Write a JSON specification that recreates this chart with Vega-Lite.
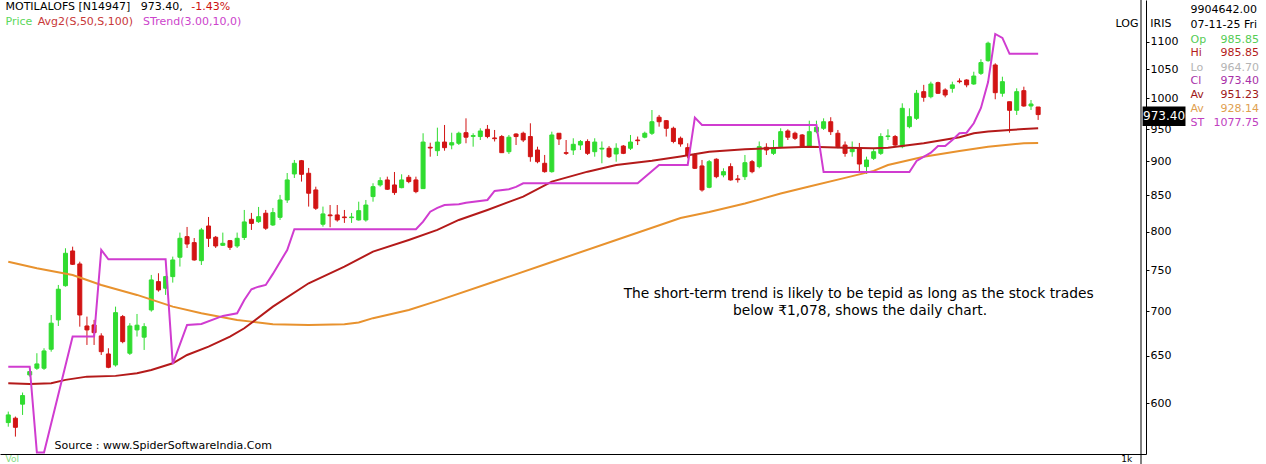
{
"$schema":"https://vega.github.io/schema/vega-lite/v6.json",
"width":1146,"height":454,"autosize":"none",
"padding":{"left":0,"top":0,"right":120,"bottom":10},
"background":"#ffffff",
"config":{"view":{"stroke":null},"text":{"font":"DejaVu Sans"}},
"datasets":{
"candles":[
{"n":0,"o":580.9,"h":591.7,"l":576.9,"c":588.4},
{"n":1,"o":585.2,"h":586.8,"l":567.4,"c":576.3},
{"n":2,"o":599.1,"h":610.9,"l":588.4,"c":607.8},
{"n":3,"o":629.2,"h":634.5,"l":627.4,"c":632.7},
{"n":4,"o":636.3,"h":652.5,"l":634.5,"c":640.9},
{"n":5,"o":636.3,"h":658.0,"l":634.5,"c":655.0},
{"n":6,"o":656.9,"h":695.7,"l":654.2,"c":686.2},
{"n":7,"o":690.0,"h":731.6,"l":683.0,"c":726.4},
{"n":8,"o":730.7,"h":778.0,"l":729.5,"c":771.5},
{"n":9,"o":774.5,"h":780.1,"l":756.5,"c":757.4},
{"n":10,"o":757.8,"h":760.7,"l":682.2,"c":695.7},
{"n":11,"o":683.0,"h":693.8,"l":661.6,"c":678.5},
{"n":12,"o":684.2,"h":690.0,"l":661.6,"c":675.4},
{"n":13,"o":671.7,"h":674.7,"l":650.6,"c":654.2},
{"n":14,"o":651.7,"h":658.0,"l":636.3,"c":637.3},
{"n":15,"o":639.8,"h":705.5,"l":638.0,"c":698.4},
{"n":16,"o":693.8,"h":695.7,"l":663.5,"c":665.3},
{"n":17,"o":652.5,"h":686.2,"l":650.6,"c":683.0},
{"n":18,"o":678.5,"h":696.9,"l":671.0,"c":683.9},
{"n":19,"o":670.3,"h":686.2,"l":656.1,"c":682.2},
{"n":20,"o":701.6,"h":744.0,"l":699.6,"c":737.8},
{"n":21,"o":735.7,"h":746.1,"l":723.4,"c":725.5},
{"n":22,"o":727.6,"h":742.8,"l":719.5,"c":741.9},
{"n":23,"o":741.9,"h":767.2,"l":734.5,"c":762.9},
{"n":24,"o":766.4,"h":798.7,"l":754.5,"c":791.1},
{"n":25,"o":793.3,"h":806.3,"l":778.4,"c":783.6},
{"n":26,"o":785.4,"h":791.5,"l":762.0,"c":762.9},
{"n":27,"o":762.0,"h":805.0,"l":756.5,"c":802.3},
{"n":28,"o":807.6,"h":819.9,"l":779.7,"c":791.1},
{"n":29,"o":792.5,"h":794.2,"l":778.4,"c":781.0},
{"n":30,"o":781.9,"h":798.7,"l":781.0,"c":784.5},
{"n":31,"o":788.0,"h":788.9,"l":775.8,"c":779.3},
{"n":32,"o":781.0,"h":798.7,"l":778.4,"c":791.1},
{"n":33,"o":792.2,"h":829.6,"l":788.9,"c":813.1},
{"n":34,"o":816.7,"h":825.5,"l":802.3,"c":811.1},
{"n":35,"o":813.5,"h":833.8,"l":811.8,"c":820.3},
{"n":36,"o":825.1,"h":829.6,"l":802.3,"c":804.6},
{"n":37,"o":809.0,"h":832.4,"l":807.6,"c":825.9},
{"n":38,"o":819.4,"h":850.8,"l":815.8,"c":843.6},
{"n":39,"o":843.6,"h":882.6,"l":839.4,"c":872.4},
{"n":40,"o":881.2,"h":902.1,"l":875.3,"c":897.1},
{"n":41,"o":901.0,"h":902.1,"l":870.0,"c":880.7},
{"n":42,"o":882.2,"h":890.1,"l":834.3,"c":853.2},
{"n":43,"o":857.9,"h":862.6,"l":829.6,"c":832.0},
{"n":44,"o":810.0,"h":834.3,"l":806.7,"c":824.1},
{"n":45,"o":822.7,"h":836.5,"l":805.9,"c":821.6},
{"n":46,"o":822.7,"h":836.5,"l":813.5,"c":815.8},
{"n":47,"o":819.9,"h":829.6,"l":811.8,"c":819.0},
{"n":48,"o":819.0,"h":825.5,"l":811.8,"c":819.9},
{"n":49,"o":815.8,"h":841.2,"l":815.0,"c":828.6},
{"n":50,"o":815.8,"h":843.6,"l":813.5,"c":836.5},
{"n":51,"o":848.4,"h":867.6,"l":841.2,"c":862.6},
{"n":52,"o":865.1,"h":876.3,"l":862.6,"c":871.4},
{"n":53,"o":872.4,"h":877.2,"l":857.9,"c":858.9},
{"n":54,"o":865.1,"h":884.1,"l":850.8,"c":854.1},
{"n":55,"o":861.2,"h":880.7,"l":860.3,"c":872.4},
{"n":56,"o":876.3,"h":879.7,"l":867.6,"c":870.0},
{"n":57,"o":872.4,"h":877.2,"l":853.2,"c":855.5},
{"n":58,"o":859.8,"h":943.4,"l":859.3,"c":929.6},
{"n":59,"o":921.5,"h":928.6,"l":907.1,"c":920.4},
{"n":60,"o":916.2,"h":952.3,"l":908.1,"c":929.6},
{"n":61,"o":929.6,"h":956.6,"l":916.2,"c":920.9},
{"n":62,"o":925.0,"h":944.3,"l":918.4,"c":928.6},
{"n":63,"o":927.7,"h":945.9,"l":925.0,"c":943.4},
{"n":64,"o":944.3,"h":967.3,"l":927.7,"c":937.2},
{"n":65,"o":938.5,"h":943.4,"l":922.4,"c":939.7},
{"n":66,"o":938.2,"h":951.3,"l":932.8,"c":947.0},
{"n":67,"o":949.7,"h":956.6,"l":935.5,"c":938.2},
{"n":68,"o":936.0,"h":948.6,"l":930.5,"c":934.9},
{"n":69,"o":938.2,"h":940.7,"l":912.7,"c":913.2},
{"n":70,"o":914.7,"h":940.7,"l":911.2,"c":937.2},
{"n":71,"o":942.2,"h":943.4,"l":925.0,"c":938.2},
{"n":72,"o":943.4,"h":945.9,"l":929.6,"c":932.8},
{"n":73,"o":938.2,"h":959.3,"l":899.5,"c":907.1},
{"n":74,"o":917.3,"h":922.4,"l":897.1,"c":899.5},
{"n":75,"o":897.1,"h":909.7,"l":883.1,"c":884.6},
{"n":76,"o":884.6,"h":945.9,"l":883.1,"c":940.7},
{"n":77,"o":943.4,"h":943.4,"l":925.0,"c":934.4},
{"n":78,"o":913.2,"h":932.8,"l":909.7,"c":912.2},
{"n":79,"o":917.3,"h":935.5,"l":909.7,"c":926.1},
{"n":80,"o":925.0,"h":932.8,"l":917.3,"c":930.5},
{"n":81,"o":930.5,"h":933.9,"l":909.7,"c":912.2},
{"n":82,"o":914.7,"h":935.5,"l":907.1,"c":929.6},
{"n":83,"o":918.8,"h":930.5,"l":897.1,"c":920.0},
{"n":84,"o":920.0,"h":923.4,"l":905.1,"c":907.1},
{"n":85,"o":911.2,"h":927.7,"l":899.5,"c":920.0},
{"n":86,"o":923.4,"h":925.0,"l":911.0,"c":912.2},
{"n":87,"o":920.0,"h":940.7,"l":917.3,"c":929.6},
{"n":88,"o":932.8,"h":938.2,"l":925.0,"c":931.7},
{"n":89,"o":937.2,"h":945.9,"l":935.5,"c":943.4},
{"n":90,"o":943.4,"h":980.9,"l":940.7,"c":961.8},
{"n":91,"o":969.1,"h":972.8,"l":953.9,"c":961.8},
{"n":92,"o":963.5,"h":964.6,"l":938.2,"c":951.3},
{"n":93,"o":951.3,"h":953.9,"l":927.7,"c":930.5},
{"n":94,"o":935.5,"h":938.2,"l":922.4,"c":926.6},
{"n":95,"o":920.9,"h":927.7,"l":904.6,"c":908.9},
{"n":96,"o":909.7,"h":912.2,"l":888.5,"c":889.6},
{"n":97,"o":893.1,"h":902.1,"l":855.5,"c":857.9},
{"n":98,"o":861.7,"h":902.1,"l":860.3,"c":899.5},
{"n":99,"o":903.2,"h":904.6,"l":874.9,"c":877.2},
{"n":100,"o":879.7,"h":889.6,"l":876.3,"c":884.6},
{"n":101,"o":892.1,"h":897.1,"l":871.4,"c":872.4},
{"n":102,"o":873.9,"h":879.7,"l":868.5,"c":872.8},
{"n":103,"o":877.2,"h":909.7,"l":872.4,"c":898.0},
{"n":104,"o":899.5,"h":902.1,"l":882.2,"c":884.6},
{"n":105,"o":892.1,"h":930.5,"l":889.6,"c":922.4},
{"n":106,"o":921.5,"h":927.7,"l":909.7,"c":917.3},
{"n":107,"o":912.2,"h":932.8,"l":909.7,"c":920.0},
{"n":108,"o":922.4,"h":951.3,"l":920.0,"c":945.9},
{"n":109,"o":947.0,"h":949.7,"l":932.8,"c":937.2},
{"n":110,"o":943.4,"h":945.9,"l":932.8,"c":935.5},
{"n":111,"o":940.7,"h":942.2,"l":921.5,"c":923.4},
{"n":112,"o":923.4,"h":963.5,"l":922.4,"c":945.9},
{"n":113,"o":945.9,"h":963.5,"l":943.4,"c":952.9},
{"n":114,"o":951.3,"h":967.3,"l":948.6,"c":961.8},
{"n":115,"o":961.8,"h":969.1,"l":940.7,"c":945.9},
{"n":116,"o":943.4,"h":948.6,"l":920.0,"c":922.4},
{"n":117,"o":925.0,"h":930.5,"l":907.1,"c":912.2},
{"n":118,"o":914.7,"h":930.5,"l":907.1,"c":918.4},
{"n":119,"o":920.9,"h":928.2,"l":884.6,"c":896.0},
{"n":120,"o":892.1,"h":907.1,"l":881.2,"c":902.1},
{"n":121,"o":904.6,"h":920.0,"l":902.1,"c":914.7},
{"n":122,"o":912.2,"h":943.4,"l":909.7,"c":938.2},
{"n":123,"o":938.2,"h":949.7,"l":932.8,"c":939.2},
{"n":124,"o":938.2,"h":940.7,"l":922.4,"c":925.0},
{"n":125,"o":922.4,"h":992.0,"l":920.0,"c":983.7},
{"n":126,"o":953.9,"h":983.7,"l":951.3,"c":970.0},
{"n":127,"o":967.3,"h":1014.4,"l":964.6,"c":1008.8},
{"n":128,"o":1011.5,"h":1023.1,"l":994.6,"c":1002.0},
{"n":129,"o":1003.0,"h":1028.6,"l":1000.3,"c":1024.6},
{"n":130,"o":1026.9,"h":1028.6,"l":1007.6,"c":1008.8},
{"n":131,"o":1014.4,"h":1017.2,"l":1002.0,"c":1005.9},
{"n":132,"o":1017.2,"h":1028.6,"l":1009.8,"c":1023.1},
{"n":133,"o":1029.8,"h":1034.4,"l":1025.8,"c":1028.6},
{"n":134,"o":1031.5,"h":1032.7,"l":1019.0,"c":1023.1},
{"n":135,"o":1024.6,"h":1045.9,"l":1023.1,"c":1038.4},
{"n":136,"o":1043.1,"h":1068.0,"l":1040.2,"c":1062.0},
{"n":137,"o":1065.4,"h":1100.0,"l":1063.6,"c":1097.1},
{"n":138,"o":1057.8,"h":1060.8,"l":998.7,"c":1009.8},
{"n":139,"o":1008.8,"h":1037.2,"l":1003.0,"c":1028.6},
{"n":140,"o":994.6,"h":994.6,"l":944.3,"c":980.4},
{"n":141,"o":980.4,"h":1017.2,"l":972.8,"c":1011.5},
{"n":142,"o":1013.2,"h":1020.0,"l":986.3,"c":987.5},
{"n":143,"o":987.5,"h":997.5,"l":980.9,"c":990.8},
{"n":144,"o":985.85,"h":985.85,"l":964.7,"c":973.4}
],
"avg50":[
{"n":0,"v":620.5},{"n":3,"v":619.8},{"n":6,"v":620.5},{"n":8,"v":624.0},{"n":11,"v":627.4},{"n":15,"v":628.2},{"n":18,"v":631.0},{"n":20,"v":634.5},{"n":23,"v":641.6},{"n":25,"v":650.6},{"n":28,"v":659.8},{"n":31,"v":671.0},{"n":33,"v":680.4},{"n":37,"v":705.5},{"n":42,"v":733.7},{"n":47,"v":754.5},{"n":51,"v":773.6},{"n":56,"v":788.9},{"n":60,"v":802.3},{"n":63,"v":815.8},{"n":67,"v":829.6},{"n":72,"v":848.4},{"n":76,"v":870.0},{"n":81,"v":884.6},{"n":85,"v":894.6},{"n":90,"v":901.0},{"n":94,"v":907.4},{"n":98,"v":914.7},{"n":103,"v":918.4},{"n":108,"v":920.9},{"n":112,"v":922.4},{"n":117,"v":920.9},{"n":121,"v":920.0},{"n":123,"v":920.9},{"n":128,"v":927.7},{"n":133,"v":937.2},{"n":135,"v":943.4},{"n":137,"v":946.0},{"n":140,"v":948.5},{"n":142,"v":950.0},{"n":144,"v":951.23}
],
"avg100":[
{"n":0,"v":760.7},{"n":4,"v":752.4},{"n":9,"v":744.0},{"n":13,"v":731.6},{"n":18,"v":719.5},{"n":23,"v":705.5},{"n":27,"v":697.7},{"n":32,"v":690.0},{"n":34,"v":688.0},{"n":37,"v":685.1},{"n":42,"v":684.2},{"n":47,"v":685.1},{"n":49,"v":686.9},{"n":51,"v":692.0},{"n":56,"v":701.6},{"n":60,"v":712.3},{"n":68,"v":735.8},{"n":76,"v":760.3},{"n":85,"v":788.9},{"n":94,"v":818.5},{"n":98,"v":826.8},{"n":103,"v":838.7},{"n":108,"v":852.7},{"n":112,"v":862.9},{"n":117,"v":875.4},{"n":121,"v":885.8},{"n":123,"v":894.6},{"n":128,"v":907.1},{"n":133,"v":915.8},{"n":137,"v":922.4},{"n":142,"v":927.7},{"n":144,"v":928.14}
],
"strend":[
{"n":0,"v":638.0},{"n":3,"v":638.0},{"n":4,"v":552.4},{"n":5,"v":552.4},{"n":9,"v":671.0},{"n":12,"v":671.0},{"n":13,"v":775.8},{"n":14,"v":763.8},{"n":22,"v":763.8},{"n":23,"v":640.9},{"n":25,"v":684.2},{"n":27,"v":685.3},{"n":30,"v":694.6},{"n":32,"v":697.7},{"n":33,"v":713.5},{"n":34,"v":726.4},{"n":35,"v":729.5},{"n":36,"v":731.6},{"n":37,"v":745.3},{"n":39,"v":775.8},{"n":40,"v":803.2},{"n":57,"v":803.2},{"n":58,"v":813.5},{"n":59,"v":827.2},{"n":60,"v":832.4},{"n":61,"v":836.5},{"n":63,"v":837.5},{"n":64,"v":839.8},{"n":67,"v":843.6},{"n":68,"v":856.5},{"n":70,"v":858.9},{"n":71,"v":862.3},{"n":72,"v":867.6},{"n":88,"v":867.6},{"n":91,"v":894.6},{"n":95,"v":894.6},{"n":96,"v":968.6},{"n":97,"v":956.6},{"n":113,"v":956.6},{"n":114,"v":884.0},{"n":126,"v":884.0},{"n":127,"v":900.7},{"n":129,"v":913.2},{"n":130,"v":923.4},{"n":131,"v":923.4},{"n":132,"v":932.8},{"n":133,"v":943.4},{"n":134,"v":944.3},{"n":135,"v":959.3},{"n":136,"v":984.2},{"n":137,"v":1028.0},{"n":138,"v":1114.2},{"n":139,"v":1106.8},{"n":140,"v":1077.75},{"n":144,"v":1077.75}
]
},
"layer":[
{"data":{"name":"candles"},"mark":{"type":"rule","strokeWidth":1},
 "encoding":{
  "x":{"field":"n","type":"quantitative","scale":{"domain":[-0.457,158.38],"nice":false,"zero":false},
       "axis":{"orient":"bottom","labels":false,"ticks":false,"grid":false,"domain":true,"domainColor":"#000000","domainWidth":1,"title":null}},
  "y":{"field":"l","type":"quantitative","scale":{"type":"log","domain":[551.1,1179.5],"nice":false},
       "axis":{"orient":"right","values":[600,650,700,750,800,850,900,950,1000,1050,1100],"format":"d","labelFont":"DejaVu Sans","labelFontSize":11,"labelColor":"#000000","tickColor":"#000000","tickSize":3,"domainColor":"#000000","domainWidth":1,"grid":false,"title":null,"labelPadding":1,"labelOverlap":false}},
  "y2":{"field":"h"},
  "color":{"condition":{"test":"datum.c >= datum.o","value":"#30DC30"},"value":"#D21414"}}},
{"data":{"name":"candles"},"mark":{"type":"bar","width":4,"strokeWidth":1},
 "encoding":{
  "x":{"field":"n","type":"quantitative","scale":{"domain":[-0.457,158.38],"nice":false,"zero":false}},
  "y":{"field":"o","type":"quantitative","scale":{"type":"log","domain":[551.1,1179.5],"nice":false}},
  "y2":{"field":"c"},
  "fill":{"condition":{"test":"datum.c >= datum.o","value":"#30DC30"},"value":"#D21414"},
  "stroke":{"condition":{"test":"datum.c >= datum.o","value":"#30DC30"},"value":"#D21414"}}},
{"data":{"name":"avg100"},"mark":{"type":"line","color":"#E8922E","strokeWidth":2},
 "encoding":{"x":{"field":"n","type":"quantitative","scale":{"domain":[-0.457,158.38],"nice":false,"zero":false}},
  "y":{"field":"v","type":"quantitative","scale":{"type":"log","domain":[551.1,1179.5],"nice":false}}}},
{"data":{"name":"avg50"},"mark":{"type":"line","color":"#B41A1A","strokeWidth":2},
 "encoding":{"x":{"field":"n","type":"quantitative","scale":{"domain":[-0.457,158.38],"nice":false,"zero":false}},
  "y":{"field":"v","type":"quantitative","scale":{"type":"log","domain":[551.1,1179.5],"nice":false}}}},
{"data":{"name":"strend"},"mark":{"type":"line","color":"#D03CD0","strokeWidth":2},
 "encoding":{"x":{"field":"n","type":"quantitative","scale":{"domain":[-0.457,158.38],"nice":false,"zero":false}},
  "y":{"field":"v","type":"quantitative","scale":{"type":"log","domain":[551.1,1179.5],"nice":false}}}},
{"data":{"values":[{}]},"mark":{"type":"rule","color":"#000000","strokeWidth":1},
 "encoding":{"x":{"datum":158.38,"type":"quantitative"},"y":{"datum":1179.5,"type":"quantitative"},"y2":{"datum":541}}},
{"data":{"values":[{}]},"mark":{"type":"rect","color":"#000000"},
 "encoding":{"x":{"datum":158.6,"type":"quantitative"},"x2":{"datum":164.6},"y":{"datum":986.7,"type":"quantitative"},"y2":{"datum":954.9}}},
{"data":{"values":[{}]},"mark":{"type":"text","text":"973.40","color":"#ffffff","fontSize":12,"align":"center","baseline":"middle"},
 "encoding":{"x":{"datum":161.6,"type":"quantitative"},"y":{"datum":971.1,"type":"quantitative"}}},
{"data":{"values":[{}]},"mark":{"type":"text","text":"MOTILALOFS [N14947]","color":"#000000","fontSize":11,"align":"left","baseline":"middle"},
 "encoding":{"x":{"datum":-0.39,"type":"quantitative"},"y":{"datum":1164.8,"type":"quantitative"}}},
{"data":{"values":[{}]},"mark":{"type":"text","text":"973.40,","color":"#000000","fontSize":11,"align":"left","baseline":"middle"},
 "encoding":{"x":{"datum":18.53,"type":"quantitative"},"y":{"datum":1164.8,"type":"quantitative"}}},
{"data":{"values":[{}]},"mark":{"type":"text","text":"-1.43%","color":"#CC1010","fontSize":11,"align":"left","baseline":"middle"},
 "encoding":{"x":{"datum":25.6,"type":"quantitative"},"y":{"datum":1164.8,"type":"quantitative"}}},
{"data":{"values":[{}]},"mark":{"type":"text","text":"Price","color":"#5CD85C","fontSize":11,"align":"left","baseline":"middle"},
 "encoding":{"x":{"datum":-0.39,"type":"quantitative"},"y":{"datum":1136.8,"type":"quantitative"}}},
{"data":{"values":[{}]},"mark":{"type":"text","text":"Avg2(S,50,S,100)","color":"#C83838","fontSize":11,"align":"left","baseline":"middle"},
 "encoding":{"x":{"datum":4.12,"type":"quantitative"},"y":{"datum":1136.8,"type":"quantitative"}}},
{"data":{"values":[{}]},"mark":{"type":"text","text":"STrend(3.00,10,0)","color":"#CC44CC","fontSize":11,"align":"left","baseline":"middle"},
 "encoding":{"x":{"datum":18.85,"type":"quantitative"},"y":{"datum":1136.8,"type":"quantitative"}}},
{"data":{"values":[{}]},"mark":{"type":"text","text":"LOG","color":"#000000","fontSize":11,"align":"center","baseline":"middle"},
 "encoding":{"x":{"datum":156.43,"type":"quantitative"},"y":{"datum":1133.0,"type":"quantitative"}}},
{"data":{"values":[{}]},"mark":{"type":"text","text":"IRIS","color":"#000000","fontSize":11,"align":"center","baseline":"middle"},
 "encoding":{"x":{"datum":161.15,"type":"quantitative"},"y":{"datum":1133.0,"type":"quantitative"}}},
{"data":{"values":[{}]},"mark":{"type":"text","text":"9904642.00","color":"#000000","fontSize":11,"align":"left","baseline":"middle"},
 "encoding":{"x":{"datum":165.3,"type":"quantitative"},"y":{"datum":1159.9,"type":"quantitative"}}},
{"data":{"values":[{}]},"mark":{"type":"text","text":"07-11-25 Fri","color":"#000000","fontSize":11,"align":"left","baseline":"middle"},
 "encoding":{"x":{"datum":165.3,"type":"quantitative"},"y":{"datum":1131.0,"type":"quantitative"}}},
{"data":{"values":[{}]},"mark":{"type":"text","text":"Op","color":"#55CC55","fontSize":11,"align":"left","baseline":"middle"},
 "encoding":{"x":{"datum":165.3,"type":"quantitative"},"y":{"datum":1103.1,"type":"quantitative"}}},
{"data":{"values":[{}]},"mark":{"type":"text","text":"985.85","color":"#55CC55","fontSize":11,"align":"right","baseline":"middle"},
 "encoding":{"x":{"datum":174.87,"type":"quantitative"},"y":{"datum":1103.1,"type":"quantitative"}}},
{"data":{"values":[{}]},"mark":{"type":"text","text":"Hi","color":"#B41C1C","fontSize":11,"align":"left","baseline":"middle"},
 "encoding":{"x":{"datum":165.3,"type":"quantitative"},"y":{"datum":1079.2,"type":"quantitative"}}},
{"data":{"values":[{}]},"mark":{"type":"text","text":"985.85","color":"#B41C1C","fontSize":11,"align":"right","baseline":"middle"},
 "encoding":{"x":{"datum":174.87,"type":"quantitative"},"y":{"datum":1079.2,"type":"quantitative"}}},
{"data":{"values":[{}]},"mark":{"type":"text","text":"Lo","color":"#B4B4B4","fontSize":11,"align":"left","baseline":"middle"},
 "encoding":{"x":{"datum":165.3,"type":"quantitative"},"y":{"datum":1052.5,"type":"quantitative"}}},
{"data":{"values":[{}]},"mark":{"type":"text","text":"964.70","color":"#B4B4B4","fontSize":11,"align":"right","baseline":"middle"},
 "encoding":{"x":{"datum":174.87,"type":"quantitative"},"y":{"datum":1052.5,"type":"quantitative"}}},
{"data":{"values":[{}]},"mark":{"type":"text","text":"Cl","color":"#A830A8","fontSize":11,"align":"left","baseline":"middle"},
 "encoding":{"x":{"datum":165.3,"type":"quantitative"},"y":{"datum":1029.8,"type":"quantitative"}}},
{"data":{"values":[{}]},"mark":{"type":"text","text":"973.40","color":"#A830A8","fontSize":11,"align":"right","baseline":"middle"},
 "encoding":{"x":{"datum":174.87,"type":"quantitative"},"y":{"datum":1029.8,"type":"quantitative"}}},
{"data":{"values":[{}]},"mark":{"type":"text","text":"Av","color":"#A01818","fontSize":11,"align":"left","baseline":"middle"},
 "encoding":{"x":{"datum":165.3,"type":"quantitative"},"y":{"datum":1005.9,"type":"quantitative"}}},
{"data":{"values":[{}]},"mark":{"type":"text","text":"951.23","color":"#A01818","fontSize":11,"align":"right","baseline":"middle"},
 "encoding":{"x":{"datum":174.87,"type":"quantitative"},"y":{"datum":1005.9,"type":"quantitative"}}},
{"data":{"values":[{}]},"mark":{"type":"text","text":"Av","color":"#E0A050","fontSize":11,"align":"left","baseline":"middle"},
 "encoding":{"x":{"datum":165.3,"type":"quantitative"},"y":{"datum":982.6,"type":"quantitative"}}},
{"data":{"values":[{}]},"mark":{"type":"text","text":"928.14","color":"#E0A050","fontSize":11,"align":"right","baseline":"middle"},
 "encoding":{"x":{"datum":174.87,"type":"quantitative"},"y":{"datum":982.6,"type":"quantitative"}}},
{"data":{"values":[{}]},"mark":{"type":"text","text":"ST","color":"#C040C0","fontSize":11,"align":"left","baseline":"middle"},
 "encoding":{"x":{"datum":165.3,"type":"quantitative"},"y":{"datum":959.8,"type":"quantitative"}}},
{"data":{"values":[{}]},"mark":{"type":"text","text":"1077.75","color":"#C040C0","fontSize":11,"align":"right","baseline":"middle"},
 "encoding":{"x":{"datum":174.87,"type":"quantitative"},"y":{"datum":959.8,"type":"quantitative"}}},
{"data":{"values":[{}]},"mark":{"type":"text","text":"The short-term trend is likely to be tepid as long as the stock trades","color":"#000000","fontSize":13.8,"align":"center","baseline":"middle"},
 "encoding":{"x":{"datum":118.9,"type":"quantitative"},"y":{"datum":721.2,"type":"quantitative"}}},
{"data":{"values":[{}]},"mark":{"type":"text","text":"below ₹1,078, shows the daily chart.","color":"#000000","fontSize":13.8,"align":"center","baseline":"middle"},
 "encoding":{"x":{"datum":119.1,"type":"quantitative"},"y":{"datum":700.3,"type":"quantitative"}}},
{"data":{"values":[{}]},"mark":{"type":"text","text":"Source : www.SpiderSoftwareIndia.Com","color":"#000000","fontSize":11,"align":"left","baseline":"middle"},
 "encoding":{"x":{"datum":6.47,"type":"quantitative"},"y":{"datum":558.5,"type":"quantitative"}}},
{"data":{"values":[{}]},"mark":{"type":"text","text":"Vol","color":"#80DD80","fontSize":9,"align":"left","baseline":"middle"},
 "encoding":{"x":{"datum":-0.39,"type":"quantitative"},"y":{"datum":546.5,"type":"quantitative"}}},
{"data":{"values":[{}]},"mark":{"type":"text","text":"1k","color":"#000000","fontSize":9,"align":"center","baseline":"middle"},
 "encoding":{"x":{"datum":156.4,"type":"quantitative"},"y":{"datum":546.5,"type":"quantitative"}}}
]
}
